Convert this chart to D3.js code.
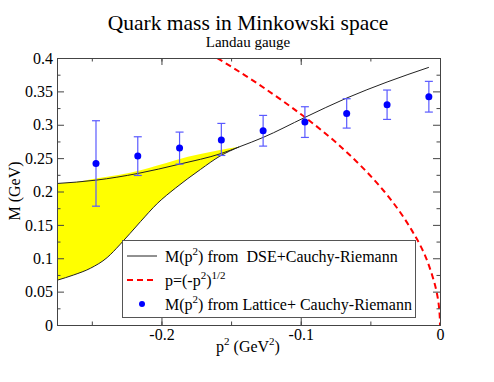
<!DOCTYPE html>
<html>
<head>
<meta charset="utf-8">
<script src="https://cdn.jsdelivr.net/npm/d3@7"></script>
<style>
  body { margin: 0; background: #fff; }
  svg text { font-family: "Liberation Serif", "Times New Roman", "DejaVu Serif", serif; fill: #000; }
</style>
</head>
<body>
<svg id="chart"></svg>
<script>
// DSE + Cauchy-Riemann curve (p^2 in GeV^2, M in GeV)
var dseP2 = [-0.275, -0.247, -0.217, -0.187, -0.157, -0.144, -0.127, -0.097, -0.067, -0.038, -0.008];
var dseM  = [0.212, 0.217, 0.227, 0.241, 0.257, 0.267, 0.281, 0.311, 0.340, 0.364, 0.386];

// lower edge of the yellow band (upper edge follows the DSE curve)
var bandP2  = [-0.275, -0.263, -0.251, -0.239, -0.230, -0.215, -0.203, -0.190, -0.172, -0.158, -0.144];
var bandLow = [0.067, 0.075, 0.085, 0.101, 0.120, 0.155, 0.182, 0.205, 0.233, 0.253, 0.267];
var bandHigh = [0.212, 0.214, 0.218, 0.222, 0.225, 0.232, 0.239, 0.247, 0.256, 0.262, 0.267];

// p = (-p^2)^(1/2)
var pP2 = [-0.16, -0.14, -0.12, -0.10, -0.08, -0.06, -0.04, -0.03, -0.02, -0.012, -0.006, -0.003, -0.001, -0.0003, 0];
var pM  = [0.400, 0.374, 0.346, 0.316, 0.283, 0.245, 0.200, 0.173, 0.141, 0.110, 0.077, 0.055, 0.032, 0.017, 0];

// lattice + Cauchy-Riemann points with errors
var latP2  = [-0.247, -0.217, -0.187, -0.157, -0.127, -0.097, -0.067, -0.038, -0.008];
var latM   = [0.242, 0.253, 0.265, 0.277, 0.291, 0.304, 0.317, 0.330, 0.342];
var latLo  = [0.178, 0.224, 0.241, 0.254, 0.268, 0.281, 0.295, 0.308, 0.319];
var latHi  = [0.306, 0.282, 0.289, 0.302, 0.314, 0.327, 0.339, 0.352, 0.365];

var xTicks = [-0.2, -0.1, 0];
var yTicks = [0, 0.05, 0.1, 0.15, 0.2, 0.25, 0.3, 0.35, 0.4];

var FONT = '"Liberation Serif", "Times New Roman", "DejaVu Serif", serif';
var width = 494, height = 382;
var margin = {left: 57, right: 54, top: 58, bottom: 57};
var iw = width - margin.left - margin.right;
var ih = height - margin.top - margin.bottom;

var svg = d3.select('#chart').attr('width', width).attr('height', height);

var x = d3.scaleLinear().domain([-0.275, 0]).range([margin.left, margin.left + iw]);
var y = d3.scaleLinear().domain([0, 0.4]).range([margin.top + ih, margin.top]);

svg.append('clipPath').attr('id', 'clip')
  .append('rect').attr('x', margin.left).attr('y', margin.top).attr('width', iw).attr('height', ih);

var plot = svg.append('g').attr('clip-path', 'url(#clip)');

// yellow band
var band = bandP2.map(function(d, i){ return {x: d, lo: bandLow[i], hi: bandHigh[i]}; });
plot.append('path')
  .datum(band)
  .attr('fill', '#ffff00')
  .attr('stroke', 'none')
  .attr('d', d3.area().curve(d3.curveMonotoneX)
    .x(function(d){ return x(d.x); })
    .y0(function(d){ return y(d.lo); })
    .y1(function(d){ return y(d.hi); }));
plot.append('path')
  .datum(band)
  .attr('fill', 'none')
  .attr('stroke', '#222')
  .attr('stroke-width', 1)
  .attr('d', d3.line().curve(d3.curveMonotoneX)
    .x(function(d){ return x(d.x); })
    .y(function(d){ return y(d.lo); }));

// red dashed sqrt curve
var pData = pP2.map(function(d, i){ return [d, pM[i]]; });
plot.append('path')
  .datum(pData)
  .attr('fill', 'none')
  .attr('stroke', '#ff0000')
  .attr('stroke-width', 2)
  .attr('stroke-dasharray', '6,4')
  .attr('d', d3.line().curve(d3.curveMonotoneY)
    .x(function(d){ return x(d[0]); })
    .y(function(d){ return y(d[1]); }));

// DSE curve
var dseData = dseP2.map(function(d, i){ return [d, dseM[i]]; });
plot.append('path')
  .datum(dseData)
  .attr('fill', 'none')
  .attr('stroke', '#222')
  .attr('stroke-width', 1)
  .attr('d', d3.line().curve(d3.curveMonotoneX)
    .x(function(d){ return x(d[0]); })
    .y(function(d){ return y(d[1]); }));

// error bars
var lat = latP2.map(function(d, i){ return {x: d, m: latM[i], lo: latLo[i], hi: latHi[i]}; });
var eb = plot.append('g').attr('stroke', '#5a5aff').attr('stroke-width', 1.2);
eb.selectAll('line.v').data(lat).enter().append('line')
  .attr('x1', function(d){ return x(d.x); }).attr('x2', function(d){ return x(d.x); })
  .attr('y1', function(d){ return y(d.lo); }).attr('y2', function(d){ return y(d.hi); });
eb.selectAll('line.t').data(lat).enter().append('line')
  .attr('x1', function(d){ return x(d.x) - 4; }).attr('x2', function(d){ return x(d.x) + 4; })
  .attr('y1', function(d){ return y(d.hi); }).attr('y2', function(d){ return y(d.hi); });
eb.selectAll('line.b').data(lat).enter().append('line')
  .attr('x1', function(d){ return x(d.x) - 4; }).attr('x2', function(d){ return x(d.x) + 4; })
  .attr('y1', function(d){ return y(d.lo); }).attr('y2', function(d){ return y(d.lo); });
plot.selectAll('circle.pt').data(lat).enter().append('circle')
  .attr('cx', function(d){ return x(d.x); })
  .attr('cy', function(d){ return y(d.m); })
  .attr('r', 3.5)
  .attr('fill', '#0000ff');

// axes (ticks inward on all sides)
var xMinor = d3.range(-0.25, 0.001, 0.05);
var yMinor = d3.range(0.025, 0.4, 0.05);
function styleAxis(g){
  g.attr('font-family', FONT);
  g.select('.domain').attr('stroke', '#444');
  g.selectAll('.tick line').attr('stroke', '#444');
  g.selectAll('.tick text').style('font-size', '16px').style('font-family', FONT);
}
svg.append('g').attr('transform', 'translate(0,' + (margin.top + ih) + ')')
  .call(d3.axisBottom(x).tickValues(xTicks).tickSize(-7).tickSizeOuter(0).tickPadding(4)
    .tickFormat(function(d){ return d === 0 ? '0' : d3.format('.1f')(d).replace('\u2212', '-'); }))
  .call(styleAxis);
svg.append('g').attr('transform', 'translate(0,' + (margin.top + ih) + ')')
  .call(d3.axisBottom(x).tickValues(xMinor).tickSize(-3.5).tickSizeOuter(0).tickFormat(''))
  .call(styleAxis);
svg.append('g').attr('transform', 'translate(0,' + margin.top + ')')
  .call(d3.axisTop(x).tickValues(xTicks).tickSize(-7).tickSizeOuter(0).tickFormat(''))
  .call(styleAxis);
svg.append('g').attr('transform', 'translate(0,' + margin.top + ')')
  .call(d3.axisTop(x).tickValues(xMinor).tickSize(-3.5).tickSizeOuter(0).tickFormat(''))
  .call(styleAxis);
svg.append('g').attr('transform', 'translate(' + margin.left + ',0)')
  .call(d3.axisLeft(y).tickValues(yTicks).tickSize(-7).tickSizeOuter(0).tickPadding(4)
    .tickFormat(function(d){ return d === 0 ? '0' : String(+d.toFixed(2)); }))
  .call(styleAxis);
svg.append('g').attr('transform', 'translate(' + margin.left + ',0)')
  .call(d3.axisLeft(y).tickValues(yMinor).tickSize(-3.5).tickSizeOuter(0).tickFormat(''))
  .call(styleAxis);
svg.append('g').attr('transform', 'translate(' + (margin.left + iw) + ',0)')
  .call(d3.axisRight(y).tickValues(yTicks).tickSize(-7).tickSizeOuter(0).tickFormat(''))
  .call(styleAxis);
svg.append('g').attr('transform', 'translate(' + (margin.left + iw) + ',0)')
  .call(d3.axisRight(y).tickValues(yMinor).tickSize(-3.5).tickSizeOuter(0).tickFormat(''))
  .call(styleAxis);

// titles
svg.append('text').attr('x', 248).attr('y', 30).attr('text-anchor', 'middle')
  .style('font-family', FONT).style('font-size', '21.5px').text('Quark mass in Minkowski space');
svg.append('text').attr('x', 248).attr('y', 47).attr('text-anchor', 'middle')
  .style('font-family', FONT).style('font-size', '15px').text('Landau gauge');

// axis labels
var xl = svg.append('text').attr('x', 248).attr('y', 352).attr('text-anchor', 'middle')
  .style('font-family', FONT).style('font-size', '16px');
xl.append('tspan').text('p');
xl.append('tspan').attr('dy', -7).style('font-size', '11px').text('2');
xl.append('tspan').attr('dy', 7).text(' (GeV');
xl.append('tspan').attr('dy', -7).style('font-size', '11px').text('2');
xl.append('tspan').attr('dy', 7).text(')');

svg.append('text').attr('transform', 'translate(20,191) rotate(-90)').attr('text-anchor', 'middle')
  .style('font-family', FONT).style('font-size', '16px').text('M (GeV)');

// legend
var lg = svg.append('g');
lg.append('rect').attr('x', 122.5).attr('y', 240.5).attr('width', 293).attr('height', 77)
  .attr('fill', '#fff').attr('stroke', '#555').attr('stroke-width', 1);
var rows = [
  {type: 'line', y: 256, parts: [['M(p', 0], ['2', 1], [') from\u00a0\u00a0DSE+Cauchy-Riemann', 0]]},
  {type: 'dash', y: 280, parts: [['p=(-p', 0], ['2', 1], [')', 0], ['1/2', 1]]},
  {type: 'dot', y: 304, parts: [['M(p', 0], ['2', 1], [') from Lattice+ Cauchy-Riemann', 0]]}
];
rows.forEach(function(r){
  if (r.type === 'line') {
    lg.append('line').attr('x1', 127).attr('x2', 157).attr('y1', r.y).attr('y2', r.y)
      .attr('stroke', '#222').attr('stroke-width', 1);
  } else if (r.type === 'dash') {
    lg.append('line').attr('x1', 127).attr('x2', 157).attr('y1', r.y).attr('y2', r.y)
      .attr('stroke', '#ff0000').attr('stroke-width', 2).attr('stroke-dasharray', '6,4');
  } else {
    lg.append('circle').attr('cx', 142).attr('cy', r.y).attr('r', 3).attr('fill', '#0000ff');
  }
  var t = lg.append('text').attr('x', 165).attr('y', r.y + 6)
    .style('font-family', FONT).style('font-size', '16px');
  var sup = false;
  r.parts.forEach(function(p){
    var s = t.append('tspan').text(p[0]);
    if (p[1] && !sup) { s.attr('dy', -7).style('font-size', '11px'); sup = true; }
    else if (!p[1] && sup) { s.attr('dy', 7); sup = false; }
  });
});
</script>
</body>
</html>
